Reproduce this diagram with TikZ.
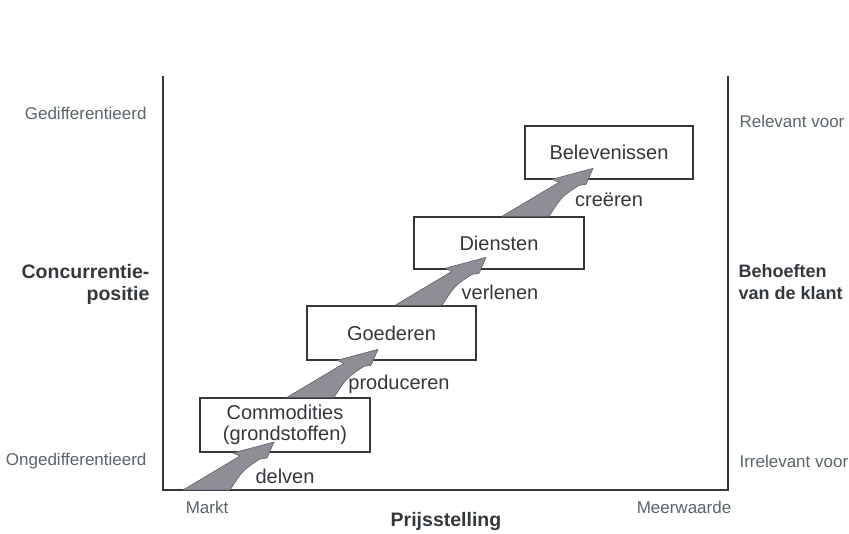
\documentclass[tikz,border=0pt]{standalone}
\usepackage{fontspec}
\setmainfont{Liberation Sans}
\usetikzlibrary{positioning}

\definecolor{inkt}{HTML}{33383D}
\definecolor{zacht}{HTML}{5A6569}
\definecolor{pijlgrijs}{HTML}{8E8E97}

\begin{document}
\begin{tikzpicture}[x=1pt, y=-1pt,
    vak/.style={draw=inkt, line width=1.3pt, fill=white, text=inkt,
                minimum width=170pt, minimum height=54pt, inner sep=0pt,
                align=center, font=\fontsize{20}{21}\selectfont},
    pijl/.style={fill=pijlgrijs, draw=inkt!80, line width=0.6pt, line join=round},
    stap/.style={text=inkt, font=\fontsize{20}{22}\selectfont},
    kant/.style={text=zacht, font=\fontsize{17}{19}\selectfont},
    kop/.style={text=inkt, font=\bfseries\fontsize{19.5}{22}\selectfont}]
                              \useasboundingbox (0,0) rectangle (849,534);

                              % Draw axes
                              \coordinate (o) at (163,490);
                              \coordinate (lt) at (163,76);
                              \coordinate (rb) at (728,490);
                              \coordinate (rt) at (728,76);
                              \draw[inkt, line width=1.8pt] (lt) -- (o) -- (rb) -- (rt);

                              % stages
                              \node[vak] (comm) at (285,425) {Commodities\\(grondstoffen)};
                              \node[vak, minimum width=169pt] (goed) at (391.5,333) {Goederen};
                              \node[vak, minimum height=52pt] (dien) at (499,243) {Diensten};
                              \node[vak, minimum width=168pt, minimum height=53pt] (bele) at (609,152.5) {Belevenissen};

                              % arrow feet
                              \coordinate (b1) at ([xshift=20pt]o);
                              \coordinate (b2) at ([xshift=2pt]comm.north);
                              \coordinate (b3) at ([xshift=3.5pt]goed.north);
                              \coordinate (b4) at ([xshift=3pt]dien.north);

                              % arrows
                              \filldraw[pijl, shift={(b1)}] (0,0) -- (57,-34) -- (50,-37) -- (91,-48) -- (84,-32) -- (77,-31) .. controls (60,-20) .. (47,0) -- cycle;
                              \filldraw[pijl, shift={(b2)}] (0,0) -- (57,-34) -- (50,-37) -- (91,-48) -- (84,-32) -- (77,-31) .. controls (60,-20) .. (47,0) -- cycle;
                              \filldraw[pijl, shift={(b3)}] (0,0) -- (57,-34) -- (50,-37) -- (91,-48) -- (84,-32) -- (77,-31) .. controls (60,-20) .. (47,0) -- cycle;
                              \filldraw[pijl, shift={(b4)}] (0,0) -- (57,-34) -- (50,-37) -- (91,-48) -- (84,-32) -- (77,-31) .. controls (60,-20) .. (47,0) -- cycle;

                              % arrow labels
                              \node[stap] (delv) at (285,476) {delven};
                              \node[stap] (prod) at (399,384) {produceren};
                              \node[stap] (verl) at (500,292) {verlenen};
                              \node[stap] (cree) at (609,200) {creëren};

                              % left labels
                              \node[kant, anchor=east] (gedi) at (150,113) {Gedifferentieerd};
                              \node[kant, anchor=east] (onge) at (150,461) {Ongedifferentieerd};
                              \node[kop, anchor=east, align=right] (conc) at (153,284) {Concurrentie-\\positie};

                              % right labels
                              \node[kant, anchor=west] (rele) at (736,121) {Relevant voor};
                              \node[kant, anchor=west] (irre) at (736,461) {Irrelevant voor};
                              \node[kop, font=\bfseries\fontsize{18}{22}\selectfont, anchor=west, align=left] (beho) at (735,282) {Behoeften\\van de klant};

                              % bottom labels
                              \node[kant] (mark) at (207,507) {Markt};
                              \node[kant] (meer) at (684,507) {Meerwaarde};
                              \node[kop] (prij) at (446,522) {Prijsstelling};
                            \end{tikzpicture}
\end{document}
